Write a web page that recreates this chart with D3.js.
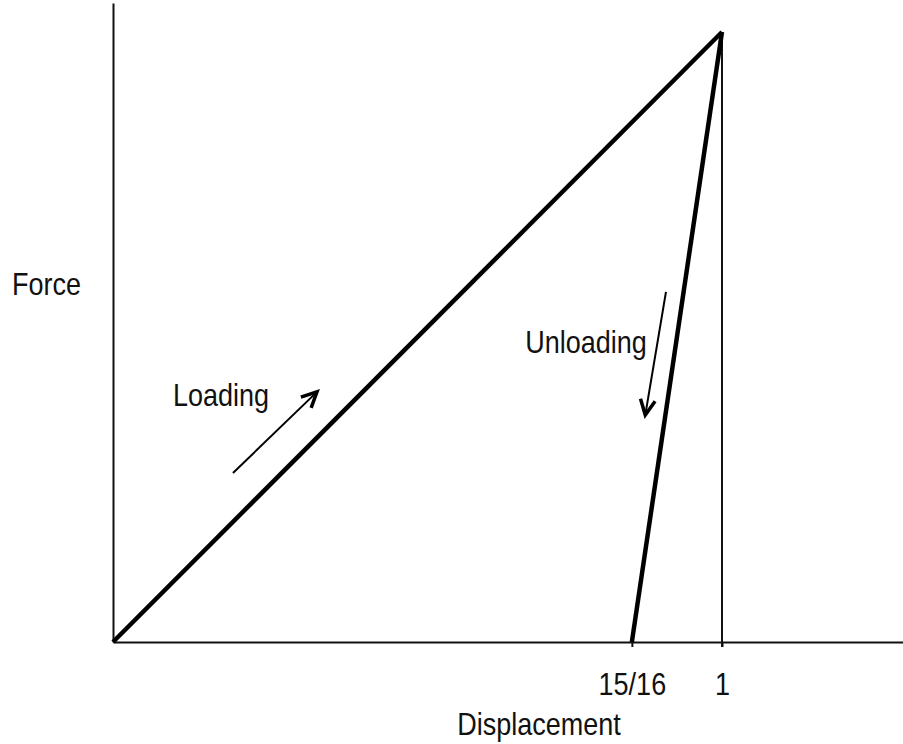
<!DOCTYPE html>
<html>
<head>
<meta charset="utf-8">
<script src="https://cdn.jsdelivr.net/npm/d3@7"></script>
<style>
  body { margin: 0; background: #fff; }
  text { font-family: "Liberation Sans", Arial, sans-serif; fill: #111; }
</style>
</head>
<body>
<div id="canvas"></div>
<script>
// data, in units of peak displacement / peak force
const loadingX = [0, 1];
const loadingY = [0, 1];
const unloadingX = [1, 0.852];
const unloadingY = [1, 0];
const tickValues = [0.852, 1];
const tickLabels = ["15/16", "1"];
// annotation arrows: [tailX, tailY, headX, headY]
const loadArrow = [0.197, 0.277, 0.335, 0.41];
const unloadArrow = [0.908, 0.574, 0.874, 0.372];
const labels = [
  { text: "Loading", x: 0.0985, y: 0.387 },
  { text: "Unloading", x: 0.677, y: 0.474 }
];

const width = 903;
const height = 744;
const margin = { top: 3, left: 113, bottom: 102, right: 0 };
const iwidth = width - margin.left - margin.right;
const iheight = height - margin.top - margin.bottom;
const sy = 1.14; // stretched bitmap-like lettering

const svg = d3.select("#canvas").append("svg")
  .attr("width", width)
  .attr("height", height);

const g = svg.append("g").attr("transform", `translate(${margin.left},${margin.top})`);

const x = d3.scaleLinear().domain([0, iwidth / 609]).range([0, iwidth]);
const y = d3.scaleLinear().domain([0, iheight / 610]).range([iheight, 0]);

// x axis
const xAxis = g.append("g")
  .attr("transform", `translate(0,${iheight})`)
  .call(d3.axisBottom(x).tickValues(tickValues)
    .tickFormat((d, i) => tickLabels[i])
    .tickSize(5).tickPadding(22).tickSizeOuter(0));
xAxis.select(".domain").attr("stroke", "#111").attr("stroke-width", 2);
xAxis.selectAll(".tick line").attr("stroke", "#111").attr("stroke-width", 2);
xAxis.selectAll(".tick text")
  .attr("font-size", 27)
  .attr("font-family", "Liberation Sans, Arial, sans-serif")
  .attr("fill", "#111")
  .attr("transform", `scale(1,${sy})`);

// y axis, no ticks
g.append("g")
  .call(d3.axisLeft(y).tickValues([]).tickSizeOuter(0))
  .select(".domain").attr("stroke", "#111").attr("stroke-width", 2);

// thin vertical at peak displacement
g.append("line")
  .attr("x1", x(1)).attr("x2", x(1))
  .attr("y1", y(1)).attr("y2", y(0) + 5)
  .attr("stroke", "#111").attr("stroke-width", 2);

const line = d3.line().x(d => x(d[0])).y(d => y(d[1]));

g.append("path")
  .datum(loadingX.map((v, i) => [v, loadingY[i]]))
  .attr("d", line)
  .attr("fill", "none").attr("stroke", "#000").attr("stroke-width", 4.5);

g.append("path")
  .datum(unloadingX.map((v, i) => [v, unloadingY[i]]))
  .attr("d", line)
  .attr("fill", "none").attr("stroke", "#000").attr("stroke-width", 4.5);

// arrows with open heads
function arrow(a) {
  const x0 = x(a[0]), y0 = y(a[1]), x1 = x(a[2]), y1 = y(a[3]);
  const ang = Math.atan2(y1 - y0, x1 - x0);
  const len = 17, spread = 0.45;
  g.append("line")
    .attr("x1", x0).attr("y1", y0).attr("x2", x1).attr("y2", y1)
    .attr("stroke", "#000").attr("stroke-width", 2);
  const p1 = [x1 - len * Math.cos(ang - spread), y1 - len * Math.sin(ang - spread)];
  const p2 = [x1 - len * Math.cos(ang + spread), y1 - len * Math.sin(ang + spread)];
  g.append("path")
    .attr("d", `M${p1}L${x1},${y1}L${p2}`)
    .attr("fill", "none").attr("stroke", "#000").attr("stroke-width", 3.5);
}
arrow(loadArrow);
arrow(unloadArrow);

function label(txt, px, py, anchor) {
  svg.append("g")
    .attr("transform", `translate(${px},${py}) scale(1,${sy})`)
    .append("text")
    .attr("text-anchor", anchor || "start")
    .attr("font-size", 27)
    .text(txt);
}

labels.forEach(d => label(d.text, margin.left + x(d.x), margin.top + y(d.y)));
label("Force", 12, 295);
label("Displacement", 539, 735, "middle");
</script>
</body>
</html>
